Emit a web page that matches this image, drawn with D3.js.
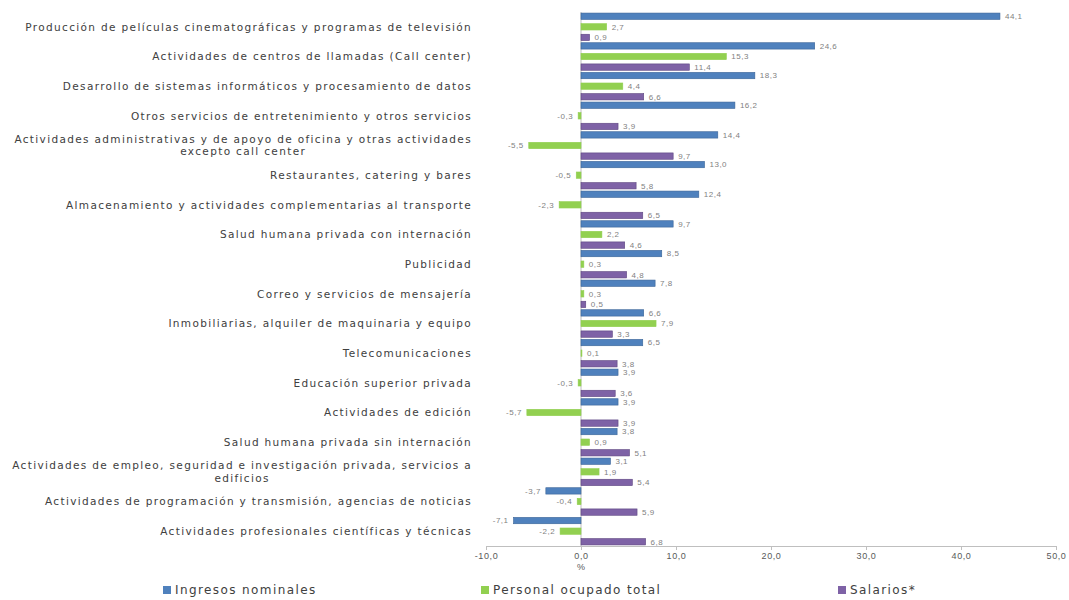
<!DOCTYPE html>
<html><head><meta charset="utf-8">
<script src="https://cdn.jsdelivr.net/npm/d3@7"></script>
<style>body{margin:0;background:#fff} svg{display:block}</style>
</head><body><svg id="c" width="1069" height="600"></svg>
<script>
const categories = [
  "Producción de películas cinematográficas y programas de televisión",
  "Actividades de centros de llamadas (Call center)",
  "Desarrollo de sistemas informáticos y procesamiento de datos",
  "Otros servicios de entretenimiento y otros servicios",
  "Actividades administrativas y de apoyo de oficina y otras actividades\nexcepto call center",
  "Restaurantes, catering y bares",
  "Almacenamiento y actividades complementarias al transporte",
  "Salud humana privada con internación",
  "Publicidad",
  "Correo y servicios de mensajería",
  "Inmobiliarias, alquiler de maquinaria y equipo",
  "Telecomunicaciones",
  "Educación superior privada",
  "Actividades de edición",
  "Salud humana privada sin internación",
  "Actividades de empleo, seguridad e investigación privada, servicios a\nedificios",
  "Actividades de programación y transmisión, agencias de noticias",
  "Actividades profesionales científicas y técnicas"
];
const ingresos = [44.1, 24.6, 18.3, 16.2, 14.4, 13.0, 12.4, 9.7, 8.5, 7.8, 6.6, 6.5, 3.9, 3.9, 3.8, 3.1, -3.7, -7.1];
const personal = [2.7, 15.3, 4.4, -0.3, -5.5, -0.5, -2.3, 2.2, 0.3, 0.3, 7.9, 0.1, -0.3, -5.7, 0.9, 1.9, -0.4, -2.2];
const salarios = [0.9, 11.4, 6.6, 3.9, 9.7, 5.8, 6.5, 4.6, 4.8, 0.5, 3.3, 3.8, 3.6, 3.9, 5.1, 5.4, 5.9, 6.8];
const seriesNames = ["Ingresos nominales", "Personal ocupado total", "Salarios*"];
const seriesColors = ["#4F81BD", "#92D050", "#7E62A6"];
const seriesStroke = ["#3A6497", "#92D050", "#5E4680"];
const xTicks = [-10, 0, 10, 20, 30, 40, 50];

const svg = d3.select("#c");
const loc = d3.formatLocale({decimal: ",", thousands: ".", grouping: [3], currency: ["$", ""], minus: "-"});
const fmt = loc.format(".1f");

const x = d3.scaleLinear().domain([-10, 50]).range([486, 1056]);
const y = d3.scaleBand().domain(categories).range([12, 546]).paddingInner(0).paddingOuter(0);
const sub = d3.scaleBand().domain([0, 1, 2]).range([0, y.bandwidth()]).paddingInner(0.4).paddingOuter(0.1);

const series = [ingresos, personal, salarios];

// axes
const xAxis = d3.axisBottom(x).tickValues(xTicks).tickSize(4).tickPadding(3).tickFormat(d => fmt(d));
const gx = svg.append("g").attr("transform", "translate(0,546)").call(xAxis);
gx.select(".domain").attr("stroke", "#BFBFBF");
gx.selectAll(".tick line").attr("stroke", "#BFBFBF");
gx.selectAll("text").attr("fill", "#595959").style("font-family", "Liberation Sans, Arial, sans-serif").style("font-size", "9px").style("letter-spacing", "0.6px");

svg.append("line").attr("x1", x(0)).attr("x2", x(0)).attr("y1", 12).attr("y2", 546).attr("stroke", "#BFBFBF");

svg.append("text").attr("x", x(0)).attr("y", 570).attr("text-anchor", "middle")
  .attr("fill", "#595959").style("font-family", "Liberation Sans, Arial, sans-serif").style("font-size", "9px").text("%");

// bars
series.forEach((vals, s) => {
  const g = svg.append("g");
  g.selectAll("rect").data(vals).join("rect")
    .attr("x", d => x(Math.min(0, d)))
    .attr("width", d => Math.abs(x(d) - x(0)))
    .attr("y", (d, i) => y(categories[i]) + sub(s))
    .attr("height", sub.bandwidth())
    .attr("fill", seriesColors[s])
    .attr("stroke", seriesStroke[s]).attr("stroke-width", 0.6);
  g.selectAll("text").data(vals).join("text")
    .attr("x", d => d >= 0 ? x(d) + 5 : x(d) - 5)
    .attr("y", (d, i) => y(categories[i]) + sub(s) + sub.bandwidth() / 2)
    .attr("dy", "0.35em")
    .attr("text-anchor", d => d >= 0 ? "start" : "end")
    .attr("fill", "#7F7F7F")
    .style("font-family", "Liberation Sans, Arial, sans-serif").style("font-size", "8px").style("letter-spacing", "0.5px")
    .text(d => fmt(d));
});

// category labels
const labelRight = 472;
categories.forEach(c => {
  const lines = c.split("\n");
  const cy = y(c) + y.bandwidth() / 2;
  const g = svg.append("g");
  const texts = lines.map((ln, k) => g.append("text")
    .attr("y", cy + (k - (lines.length - 1) / 2) * 12.5)
    .attr("dy", "0.35em")
    .attr("fill", "#404040")
    .style("font-family", "DejaVu Sans, sans-serif").style("font-size", "10.5px").style("letter-spacing", "1.35px")
    .text(ln));
  if (lines.length === 1) {
    texts[0].attr("x", labelRight).attr("text-anchor", "end");
  } else {
    const w = d3.max(texts, t => t.node().getComputedTextLength());
    texts.forEach(t => t.attr("x", labelRight - w / 2).attr("text-anchor", "middle"));
  }
});

// legend
const legendX = [163, 481, 838];
seriesNames.forEach((n, s) => {
  const g = svg.append("g").attr("transform", `translate(${legendX[s]},590)`);
  g.append("rect").attr("x", 0).attr("y", -4).attr("width", 8).attr("height", 8).attr("fill", seriesColors[s]);
  g.append("text").attr("x", 12).attr("dy", "0.35em").attr("fill", "#404040")
    .style("font-family", "DejaVu Sans, sans-serif").style("font-size", "12px").style("letter-spacing", "1.4px").text(n);
});
</script></body></html>
